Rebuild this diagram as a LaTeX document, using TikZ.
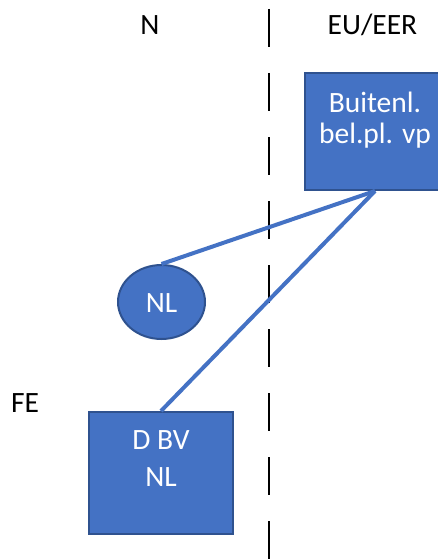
\documentclass[tikz,border=0pt]{standalone}
\usepackage{fontspec}
\setmainfont{Carlito}
\usetikzlibrary{shapes.geometric,positioning}

\definecolor{vlakblauw}{HTML}{4472C4}
\definecolor{randblauw}{HTML}{2F528F}

\tikzset{
  blok/.style={draw=randblauw,line width=2pt,fill=vlakblauw,inner sep=0pt},
  witte tekst/.style={text=white,align=center,inner sep=0pt,anchor=north,
    font=\fontsize{29.5}{30.5}\selectfont},
  kop/.style={inner sep=0pt,anchor=base,font=\fontsize{29.5}{30}\selectfont},
  lijn/.style={draw=vlakblauw,line width=4pt},
}

\begin{document}
\begin{tikzpicture}[x=1pt,y=-1pt]
    \useasboundingbox (0,0) rectangle (438,559);
    % grens N | EU/EER
    \draw[line width=2.8pt,dash pattern=on 38pt off 26pt] (269,9) -- (269,559);
    \node[kop] (n) at (150,35) {N};
    \node[kop] (eu) at (372.5,35) {EU/EER};
    \node[kop] (fe) at (25,412) {FE};
    % blokken
    \node[blok,minimum width=140pt,minimum height=117pt] (buitenl) at (375,131.5) {};
    \node[witte tekst,below=20pt of buitenl.north] (buitenltekst) {Buitenl.\\bel.pl. vp};
    \node[blok,ellipse,minimum width=87pt,minimum height=74pt] (nl) at (161.5,302) {};
    \node[kop,text=white,anchor=center] (nltekst) at ([yshift=-1pt]nl.center) {NL};
    \node[blok,minimum width=144pt,minimum height=122pt] (dbv) at (161,473) {};
    \node[witte tekst,below=19.7pt of dbv.north] (dbvtekst) {D BV\\[6pt]NL};
    % verbindingen
    \draw[lijn] (buitenl.south) -- (nl.north);
    \draw[lijn] (buitenl.south) -- (dbv.north);
\end{tikzpicture}
\end{document}
